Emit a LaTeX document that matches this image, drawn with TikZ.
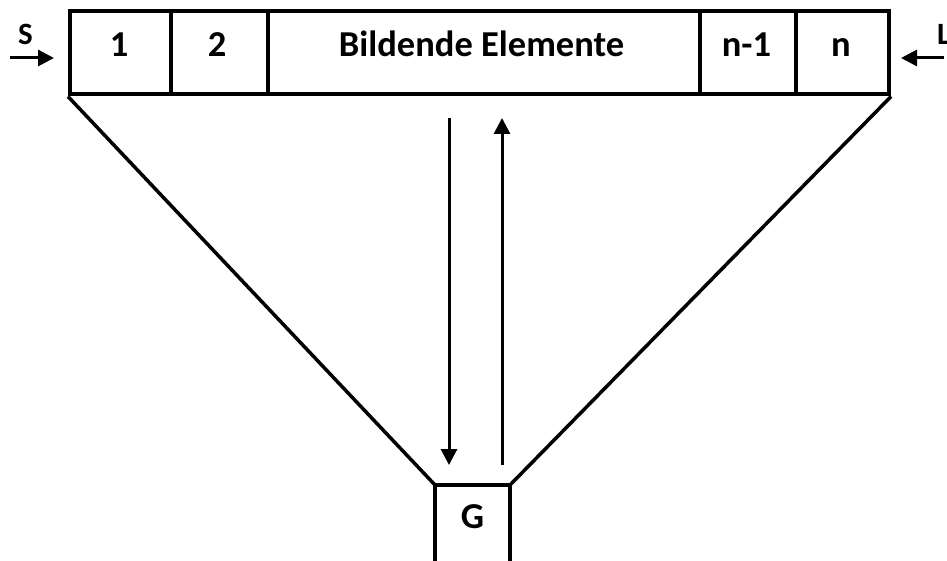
\documentclass[tikz,border=0pt]{standalone}
\usepackage{fontspec}
\setmainfont{Carlito}
\usetikzlibrary{arrows.meta}
\begin{document}
\begin{tikzpicture}[x=1pt,y=-1pt,
  cell/.style={draw, line width=4pt, inner sep=0pt, minimum height=83pt},
  lbl/.style={anchor=base, inner sep=0pt, font=\bfseries\fontsize{36.5}{44}\selectfont},
  slbl/.style={anchor=base, inner sep=0pt, font=\bfseries\fontsize{31}{37}\selectfont},
  wall/.style={line width=3.5pt},
  flow/.style={line width=3pt, -{Triangle[length=16pt,width=16pt]}}]
\useasboundingbox (0,0) rectangle (947,561);
% top cells
\node[cell, minimum width=101pt] (c1) at (120.5,53) {};
\node[cell, minimum width=97pt]  (c2) at (219.5,53) {};
\node[cell, minimum width=432pt] (c3) at (484,53) {};
\node[cell, minimum width=96pt]  (c4) at (748,53) {};
\node[cell, minimum width=93pt]  (c5) at (842.5,53) {};
% labels
\node[lbl] (t1) at (119,57) {1};
\node[lbl] (t2) at (217,57) {2};
\node[lbl] (t3) at (481.5,57) {Bildende Elemente};
\node[lbl] (t4) at (746.5,57) {n-1};
\node[lbl] (t5) at (841,57) {n};
% G box
\coordinate (gl) at (435,485);
\coordinate (gr) at (510,485);
\coordinate (gbl) at (435,563);
\coordinate (gbr) at (510,563);
\draw[wall, line join=miter] (gbl) -- (gl) -- (gr) -- (gbr);
\node[lbl] (G) at (472.5,528) {G};
% funnel
\draw[wall] (c1.south west) -- (gl);
\draw[wall] (c5.south east) -- (gr);
% vertical arrows
\coordinate (dtop) at (449,118);
\coordinate (dbot) at (449,465);
\coordinate (utop) at (502,118);
\coordinate (ubot) at (502,465);
\draw[flow] (dtop) -- (dbot);
\draw[flow] (ubot) -- (utop);
% side inputs
\node[slbl] (S) at (25.5,45) {S};
\node[slbl, anchor=base west] (L) at (937,45) {L};
\coordinate (sstart) at (10,58);
\coordinate (send) at (54,58);
\coordinate (lstart) at (944,58);
\coordinate (lend) at (901,58);
\draw[flow] (sstart) -- (send);
\draw[flow] (lstart) -- (lend);
\end{tikzpicture}
\end{document}
